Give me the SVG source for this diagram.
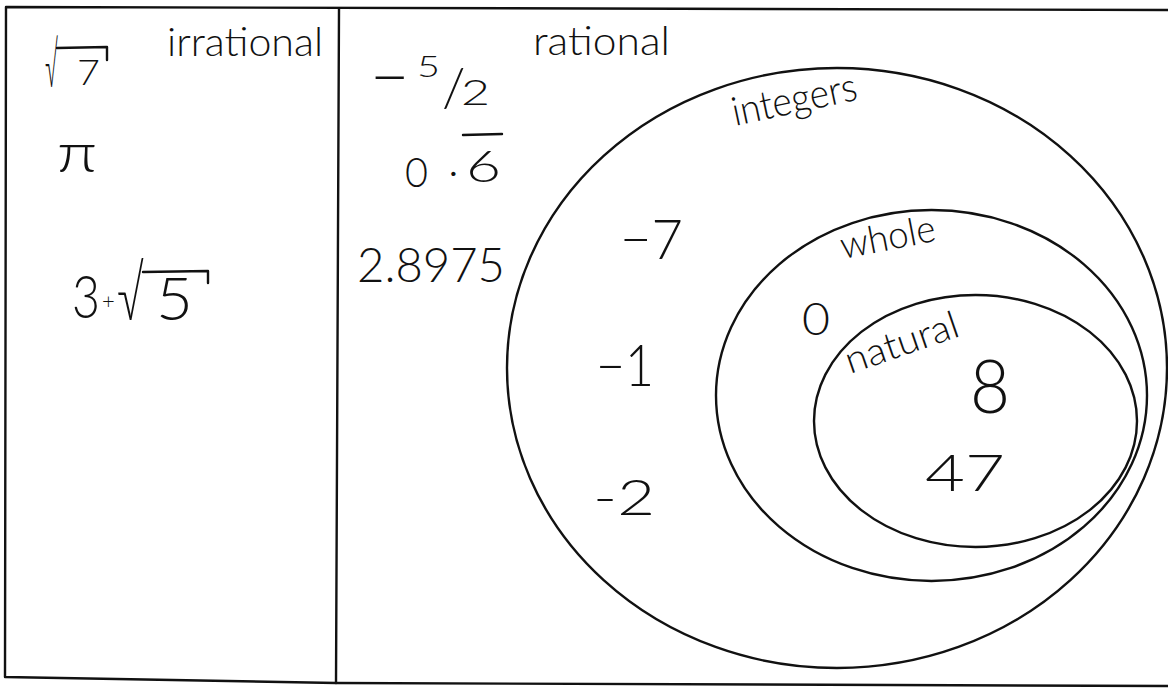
<svg xmlns="http://www.w3.org/2000/svg" width="1168" height="688" viewBox="0 0 1168 688">
<style>
.ln{fill:none;stroke:#111;stroke-width:2.4;stroke-linecap:round;stroke-linejoin:round}
.t{font-family:Lato,"Liberation Sans",Arial,sans-serif;font-weight:300;fill:#111}
</style>
<rect width="1168" height="688" fill="#ffffff"/>
<g id="frame">
<path class="ln" d="M1168,10 L6,7 L5,677 L336,683 L1168,686"/>
<path class="ln" d="M339,9 L336,683"/>
</g>
<g id="irrational">
<text class="t" x="167" y="56" font-size="40" textLength="156" lengthAdjust="spacingAndGlyphs">irrational</text>
<text class="t"><tspan x="45" y="87" font-size="60" textLength="13" lengthAdjust="spacingAndGlyphs">√</tspan><tspan x="77" y="85" font-size="35" textLength="23" lengthAdjust="spacingAndGlyphs">7</tspan></text>
<path class="ln" d="M57,48 L107,47 L107,60"/>
<text class="t" x="57" y="172" font-size="56" textLength="40" lengthAdjust="spacingAndGlyphs">π</text>
<text class="t"><tspan x="72" y="318" font-size="60" textLength="28" lengthAdjust="spacingAndGlyphs">3</tspan><tspan x="102" y="309" font-size="22">+</tspan><tspan x="117" y="320" font-size="72" textLength="27" lengthAdjust="spacingAndGlyphs">√</tspan><tspan x="156" y="320" font-size="60" textLength="37" lengthAdjust="spacingAndGlyphs">5</tspan></text>
<path class="ln" d="M143,272 L208,271 L208,283"/>
</g>
<g id="rational">
<text class="t" x="533" y="55" font-size="40" textLength="137" lengthAdjust="spacingAndGlyphs">rational</text>
<text class="t"><tspan x="370" y="101" font-size="68">−</tspan><tspan x="417" y="77" font-size="30" textLength="23" lengthAdjust="spacingAndGlyphs">5</tspan><tspan x="442" y="106" font-size="54">/</tspan><tspan x="461" y="105" font-size="36" textLength="29" lengthAdjust="spacingAndGlyphs">2</tspan></text>
<text class="t"><tspan x="405" y="187" font-size="42" textLength="23" lengthAdjust="spacingAndGlyphs">0</tspan><tspan x="448" y="176" font-size="46">.</tspan><tspan x="466" y="182" font-size="44" textLength="35" lengthAdjust="spacingAndGlyphs">6</tspan></text>
<path class="ln" d="M463,135 L502,134"/>
<text class="t" x="357" y="282" font-size="47" textLength="148" lengthAdjust="spacingAndGlyphs">2.8975</text>
</g>
<g id="integers">
<ellipse class="ln" cx="837" cy="368" rx="330" ry="300"/>
<text class="t" x="735" y="126" font-size="40" textLength="127" lengthAdjust="spacingAndGlyphs" transform="rotate(-12 735 126)">integers</text>
<text class="t" x="620" y="259" font-size="56" textLength="63" lengthAdjust="spacingAndGlyphs">−7</text>
<text class="t" x="596" y="386" font-size="58" textLength="58" lengthAdjust="spacingAndGlyphs">−1</text>
<text class="t" x="593" y="515" font-size="50" textLength="62" lengthAdjust="spacingAndGlyphs">-2</text>
</g>
<g id="whole">
<ellipse class="ln" cx="931.5" cy="395.5" rx="215.5" ry="185.5"/>
<text class="t" x="843" y="259" font-size="38" textLength="96" lengthAdjust="spacingAndGlyphs" transform="rotate(-11 843 259)">whole</text>
<text class="t" x="802" y="335" font-size="45" textLength="28" lengthAdjust="spacingAndGlyphs">0</text>
</g>
<g id="natural">
<ellipse class="ln" cx="975.5" cy="421" rx="161.5" ry="126"/>
<text class="t" x="850" y="374" font-size="38" textLength="118" lengthAdjust="spacingAndGlyphs" transform="rotate(-19 850 374)">natural</text>
<text class="t" x="970" y="413" font-size="75" textLength="40" lengthAdjust="spacingAndGlyphs">8</text>
<text class="t" x="925" y="491" font-size="52" textLength="80" lengthAdjust="spacingAndGlyphs">47</text>
</g>
<g id="connectors"/>
</svg>
